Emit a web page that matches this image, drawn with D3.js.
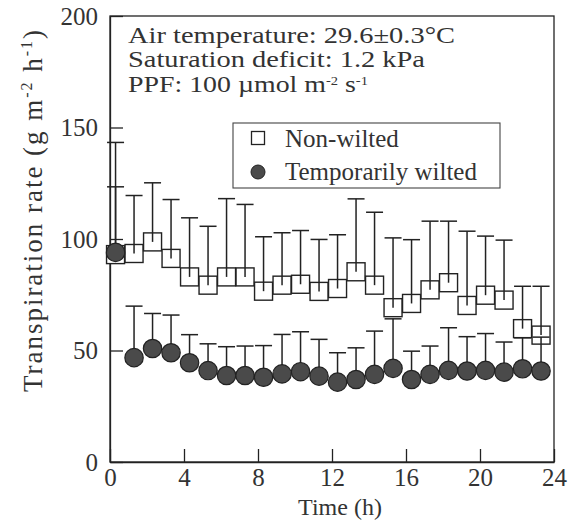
<!DOCTYPE html>
<html lang="en">
  <head>
    <meta charset="utf-8">
    <title>Transpiration rate</title>
    <script src="https://d3js.org/d3.v7.js"></script>
    <style>
      body { margin: 0; background: white; }
      svg text { font-family: "Liberation Serif", "DejaVu Serif", serif; fill: #333; }
    </style>
  </head>
  <body>
  <script>

  // data
  var hours = [0.3, 1.3, 2.3, 3.3, 4.3, 5.3, 6.3, 7.3, 8.3, 9.3, 10.3, 11.3,
               12.3, 13.3, 14.3, 15.3, 16.3, 17.3, 18.3, 19.3, 20.3, 21.3, 22.3, 23.3];
  var nonWilted = [93, 93.5, 98.7, 91.3, 83, 79.3, 83, 83, 76.6, 79.3, 79.7, 76.5,
                   77.8, 85.3, 79.3, 69.2, 71.1, 77.2, 80.4, 70.2, 74.8, 72.6, 59.8, 56.9];
  var nonWiltedTop = [143.3, 119.5, 125.2, 117.7, 109.5, 105.7, 118.1, 115.5, 101, 102.8, 103.8, 99.8,
                      101.9, 118, 112, 100.5, 99.7, 108, 108, 103.5, 101.3, 99.5, 78.8, 78.8];
  var wilted = [94, 46.8, 50.9, 49, 44.5, 41, 38.8, 38.8, 38, 39.5, 40.5, 38.5,
                35.8, 37, 39.3, 42, 37, 39.3, 41.1, 40.8, 41.1, 40.3, 41.8, 40.8];
  var wiltedTop = [123.4, 69.9, 66.6, 65.9, 57.1, 53, 51.7, 52, 52.2, 57.2, 58.4, 55,
                   49, 51.2, 58.7, 64.2, 49.7, 52, 60.2, 56.2, 57.6, 53.8, 55.7, 56];
  var xTicks = [0, 4, 8, 12, 16, 20, 24];
  var yTicks = [0, 50, 100, 150, 200];

  var w = 580;
  var h = 521;
  var margin = {top: 16, right: 26, bottom: 59, left: 110};
  var ink = "#222";

  var svg = d3.select("body")
    .append("svg")
      .attr("width", w)
      .attr("height", h);

  var xScale = d3.scaleLinear()
      .domain([0, 24])
      .range([margin.left, w - margin.right]);
  var yScale = d3.scaleLinear()
      .domain([0, 200])
      .range([h - margin.bottom, margin.top]);

  // frame
  svg.append("rect")
     .attr("x", xScale(0))
     .attr("y", yScale(200))
     .attr("width", xScale(24) - xScale(0))
     .attr("height", yScale(0) - yScale(200))
     .attr("fill", "none")
     .attr("stroke", ink)
     .attr("stroke-width", 1.3);

  // axes, ticks pointing inward
  var xAxis = d3.axisBottom(xScale)
      .tickValues(xTicks)
      .tickSizeInner(-13)
      .tickSizeOuter(0)
      .tickPadding(6);
  var gx = svg.append("g")
     .attr("transform", `translate(0, ${yScale(0)})`)
     .call(xAxis);

  var yAxis = d3.axisLeft(yScale)
      .tickValues(yTicks)
      .tickSizeInner(-13)
      .tickSizeOuter(0)
      .tickPadding(12);
  var gy = svg.append("g")
     .attr("transform", `translate(${xScale(0)}, 0)`)
     .call(yAxis);

  [gx, gy].forEach(function(g) {
    g.select(".domain").attr("stroke", ink).attr("stroke-width", 1.3);
    g.selectAll(".tick line").attr("stroke", ink).attr("stroke-width", 1.3);
    g.selectAll(".tick text")
     .style("font-family", "Liberation Serif")
     .style("font-size", "25px")
     .attr("fill", "#333");
  });

  // axis titles
  svg.append("text")
     .attr("x", 340)
     .attr("y", 515)
     .attr("text-anchor", "middle")
     .style("font-size", "24px")
     .text("Time (h)");

  var yTitle = svg.append("text")
     .attr("transform", "translate(42, 211) rotate(-90)")
     .attr("text-anchor", "middle")
     .attr("textLength", 362)
     .attr("lengthAdjust", "spacing")
     .style("font-size", "27px");
  yTitle.append("tspan").text("Transpiration rate (g m");
  yTitle.append("tspan").attr("dy", -10).style("font-size", "16px").text("-2");
  yTitle.append("tspan").attr("dy", 10).text(" h");
  yTitle.append("tspan").attr("dy", -10).style("font-size", "16px").text("-1");
  yTitle.append("tspan").attr("dy", 10).text(")");

  // conditions text, stretched to the widths in the figure
  var cond = svg.append("g").style("font-size", "23px");
  cond.append("text").attr("x", 128).attr("y", 43)
      .attr("textLength", 327).attr("lengthAdjust", "spacingAndGlyphs")
      .text("Air temperature: 29.6\u00b10.3\u00b0C");
  cond.append("text").attr("x", 128).attr("y", 67)
      .attr("textLength", 297).attr("lengthAdjust", "spacingAndGlyphs")
      .text("Saturation deficit: 1.2 kPa");
  var ppf = cond.append("text").attr("x", 128).attr("y", 92)
      .attr("textLength", 240).attr("lengthAdjust", "spacingAndGlyphs");
  ppf.append("tspan").text("PPF: 100 \u00b5mol m");
  ppf.append("tspan").attr("dy", -7).style("font-size", "12px").text("-2");
  ppf.append("tspan").attr("dy", 7).text(" s");
  ppf.append("tspan").attr("dy", -7).style("font-size", "12px").text("-1");

  // legend
  var leg = svg.append("g");
  leg.append("rect")
     .attr("x", 233).attr("y", 123)
     .attr("width", 267).attr("height", 65)
     .attr("fill", "white")
     .attr("stroke", "#444")
     .attr("stroke-width", 1.1);
  leg.append("rect")
     .attr("x", 251.5).attr("y", 131.5)
     .attr("width", 13).attr("height", 13)
     .attr("fill", "white")
     .attr("stroke", ink)
     .attr("stroke-width", 1.3);
  leg.append("circle")
     .attr("cx", 258).attr("cy", 172).attr("r", 7)
     .attr("fill", "#4a4a4a")
     .attr("stroke", ink);
  leg.append("text").attr("x", 285).attr("y", 147)
     .style("font-size", "25px").text("Non-wilted");
  leg.append("text").attr("x", 285).attr("y", 180)
     .style("font-size", "25px").text("Temporarily wilted");

  // series
  var rows = hours.map(function(t, i) {
    return {t: t, nw: nonWilted[i], nwTop: nonWiltedTop[i], tw: wilted[i], twTop: wiltedTop[i]};
  });
  var sq = 18, cap = 17;

  svg.selectAll(".sq")
     .data(rows)
     .join("rect")
     .attr("class", "sq")
     .attr("x", d => xScale(d.t) - sq / 2)
     .attr("y", d => yScale(d.nw) - sq / 2)
     .attr("width", sq)
     .attr("height", sq)
     .attr("fill", "white")
     .attr("stroke", ink)
     .attr("stroke-width", 1.4);

  function errorBars(cls, val, top) {
    var g = svg.selectAll("." + cls)
       .data(rows)
       .join("g")
       .attr("class", cls);
    g.append("line")
     .attr("x1", d => xScale(d.t)).attr("x2", d => xScale(d.t))
     .attr("y1", d => yScale(d[val])).attr("y2", d => yScale(d[top]))
     .attr("stroke", ink).attr("stroke-width", 1.5);
    g.append("line")
     .attr("x1", d => xScale(d.t) - cap / 2).attr("x2", d => xScale(d.t) + cap / 2)
     .attr("y1", d => yScale(d[top])).attr("y2", d => yScale(d[top]))
     .attr("stroke", ink).attr("stroke-width", 1.5);
  }
  errorBars("errNw", "nw", "nwTop");
  errorBars("errTw", "tw", "twTop");

  svg.selectAll(".dot")
     .data(rows)
     .join("circle")
     .attr("class", "dot")
     .attr("cx", d => xScale(d.t))
     .attr("cy", d => yScale(d.tw))
     .attr("r", 9.2)
     .attr("fill", "#4a4a4a")
     .attr("stroke", ink)
     .attr("stroke-width", 1.2);

  </script>
  </body>
</html>
